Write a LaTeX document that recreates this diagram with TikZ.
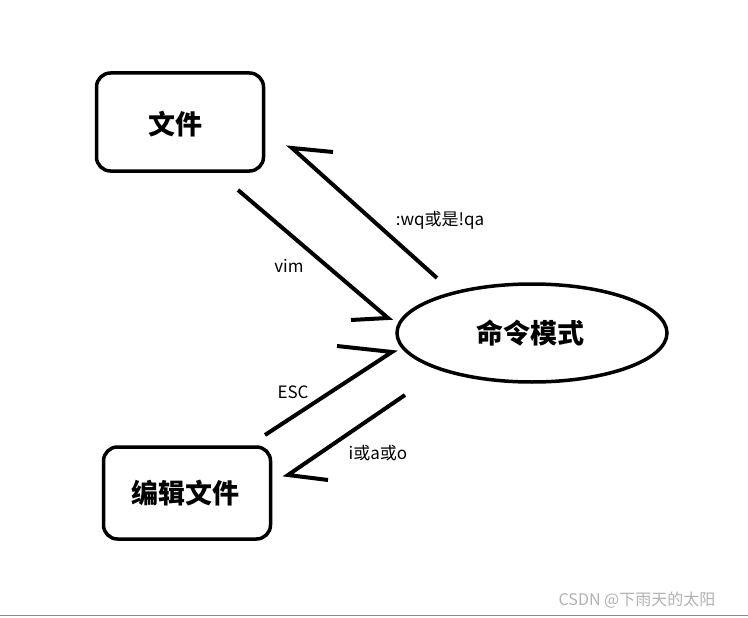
\documentclass[tikz,border=0pt]{standalone}
\usepackage{fontspec}
\usetikzlibrary{shapes.geometric}
\setmainfont{Noto Sans CJK SC}
\begin{document}
\begin{tikzpicture}[x=1pt,y=-1pt,
 box/.style={draw,line width=3.5pt,rounded corners=14pt},
 ln/.style={line width=4pt},
 big/.style={font=\fontsize{27}{30}\selectfont\bfseries},
 lab/.style={font=\fontsize{17}{19}\selectfont}]
\useasboundingbox (0,0) rectangle (748,618);
\fill[white] (0,0) rectangle (748,618);
\node[box,minimum width=167pt,minimum height=98pt,big] (file) at (180,122) {};
\node[big] (filet) at (175,124) {文件};
\node[box,minimum width=167pt,minimum height=92pt,big] (edit) at (187,493) {};
\node[big] (editt) at (185,493) {编辑文件};
\node[draw,line width=3.5pt,ellipse,minimum width=270pt,minimum height=98pt,big] (cmd) at (532,333) {};
\node[big] (cmdt) at (530,333) {命令模式};
\coordinate (a1) at (238,190); \coordinate (a2) at (388,318); \coordinate (a3) at (351,320);
\coordinate (b1) at (437,278); \coordinate (b2) at (292,148); \coordinate (b3) at (333,152);
\coordinate (c1) at (265,435); \coordinate (c2) at (392,352); \coordinate (c3) at (337,346);
\coordinate (d1) at (405,395); \coordinate (d2) at (288,475); \coordinate (d3) at (328,480);
\draw[ln] (a1) -- (a2) -- (a3);
\draw[ln] (b1) -- (b2) -- (b3);
\draw[ln] (c1) -- (c2) -- (c3);
\draw[ln] (d1) -- (d2) -- (d3);
\node[lab] (l1) at (440,220) {:wq或是!qa};
\node[lab] (l2) at (289,266) {vim};
\node[lab] (l3) at (293,392) {ESC};
\node[lab] (l4) at (378,453) {i或a或o};
\node[font=\fontsize{16}{18}\selectfont,text=gray!60] (wm) at (637,600) {CSDN @下雨天的太阳};
\draw[teal!70,line width=1pt] (0,615) -- (748,615);
\end{tikzpicture}
\end{document}
